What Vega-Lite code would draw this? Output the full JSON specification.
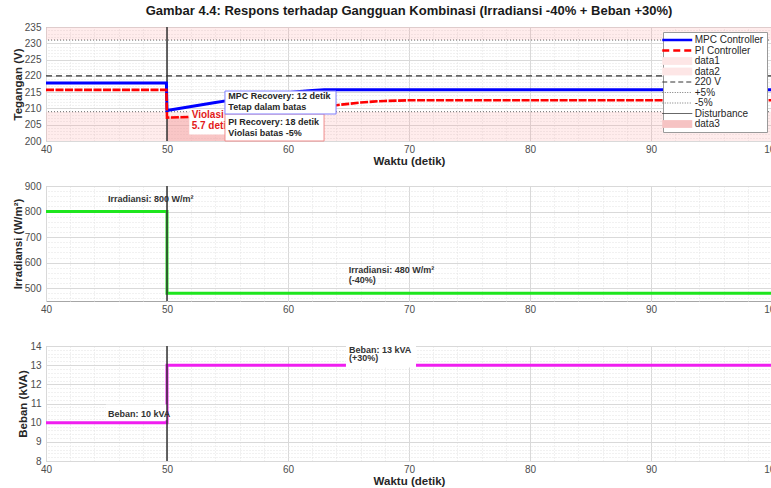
{
  "$schema": "https://vega.github.io/schema/vega-lite/v6.json",
  "padding": {"left": 11, "top": 4, "right": 0, "bottom": 0},
  "autosize": {"type": "pad"},
  "background": "white",
  "config": {
    "font": "Liberation Sans",
    "view": {"stroke": "#a6a6a6", "strokeWidth": 1},
    "axis": {"labelFont": "Liberation Sans", "titleFont": "Liberation Sans", "labelFontSize": 10, "labelColor": "#4d4d4d", "titleFontSize": 11.5, "titleFontWeight": "bold", "titleColor": "#262626", "ticks": false, "domain": false, "gridColor": "#d9d9d9", "gridWidth": 1, "labelPadding": 3, "labelFlush": false},
    "axisX": {"titlePadding": 1},
    "axisY": {"labelPadding": 5, "titlePadding": 1}
  },
  "datasets": {
    "mpc": [
      {"t": 40, "v": 217.8}, {"t": 45, "v": 217.8}, {"t": 49.95, "v": 217.8}, {"t": 50, "v": 209.4},
      {"t": 51, "v": 210.0}, {"t": 52, "v": 210.6}, {"t": 53, "v": 211.2}, {"t": 54, "v": 211.8},
      {"t": 55, "v": 212.4}, {"t": 56, "v": 212.9}, {"t": 57, "v": 213.4}, {"t": 58, "v": 213.9},
      {"t": 59, "v": 214.4}, {"t": 60, "v": 214.8}, {"t": 61, "v": 215.2}, {"t": 62, "v": 215.5},
      {"t": 63, "v": 215.7}, {"t": 70, "v": 215.7}, {"t": 80, "v": 215.7}, {"t": 90, "v": 215.7}, {"t": 100, "v": 215.7}
    ],
    "pi": [
      {"t": 40, "v": 215.7}, {"t": 45, "v": 215.7}, {"t": 49.95, "v": 215.7}, {"t": 50, "v": 207.2},
      {"t": 51, "v": 207.3}, {"t": 52, "v": 207.4}, {"t": 53, "v": 207.6}, {"t": 54, "v": 207.9},
      {"t": 55, "v": 208.4}, {"t": 55.7, "v": 209.0}, {"t": 57, "v": 209.5}, {"t": 59, "v": 210.0},
      {"t": 61, "v": 210.4}, {"t": 63, "v": 210.7}, {"t": 64, "v": 211.0}, {"t": 65, "v": 211.4},
      {"t": 66, "v": 211.8}, {"t": 67, "v": 212.1}, {"t": 68, "v": 212.3}, {"t": 70, "v": 212.5},
      {"t": 80, "v": 212.5}, {"t": 90, "v": 212.5}, {"t": 100, "v": 212.5}
    ],
    "bands": [
      {"x1": 40, "x2": 100, "y1": 231, "y2": 235},
      {"x1": 40, "x2": 100, "y1": 200, "y2": 209}
    ],
    "refs": [
      {"v": 220, "k": "nom"}, {"v": 231, "k": "lim"}, {"v": 209, "k": "lim"}
    ],
    "dist": [{"t": 50}],
    "boxes": [
      {"b": "viol", "x1": 51.84, "x2": 54.79, "y1": 202.0, "y2": 209.3},
      {"b": "pi", "x1": 54.79, "x2": 62.98, "y1": 200.0, "y2": 208.29},
      {"b": "mpc", "x1": 54.79, "x2": 63.97, "y1": 208.29, "y2": 215.35}
    ],
    "notes": [
      {"g": "viol", "x": 52.04, "y": 208.0, "txt": "Violasi"},
      {"g": "viol", "x": 52.04, "y": 204.5, "txt": "5.7 detik"},
      {"g": "pi", "x": 55.07, "y": 205.7, "txt": "PI Recovery: 18 detik"},
      {"g": "pi", "x": 55.07, "y": 202.55, "txt": "Violasi batas -5%"},
      {"g": "mpc", "x": 55.07, "y": 213.9, "txt": "MPC Recovery: 12 detik"},
      {"g": "mpc", "x": 55.07, "y": 210.5, "txt": "Tetap dalam batas"}
    ],
    "irr": [
      {"i": 0, "t": 40, "v": 800}, {"i": 1, "t": 50, "v": 800}, {"i": 2, "t": 50, "v": 480}, {"i": 3, "t": 100, "v": 480}
    ],
    "irrNotes": [
      {"x": 45.12, "y": 850.7, "txt": "Irradiansi: 800 W/m²"},
      {"x": 65.02, "y": 571.6, "txt": "Irradiansi: 480 W/m²"},
      {"x": 65.02, "y": 531, "txt": "(-40%)"}
    ],
    "beban": [
      {"i": 0, "t": 40, "v": 10}, {"i": 1, "t": 50, "v": 10}, {"i": 2, "t": 50, "v": 13}, {"i": 3, "t": 100, "v": 13}
    ],
    "bebanBoxes": [
      {"x1": 64.79, "x2": 70.58, "y1": 12.88, "y2": 14.0},
      {"x1": 44.95, "x2": 50.0, "y1": 10.12, "y2": 10.95}
    ],
    "bebanNotes": [
      {"x": 45.12, "y": 10.44, "txt": "Beban: 10 kVA"},
      {"x": 65.04, "y": 13.8, "txt": "Beban: 13 kVA"},
      {"x": 65.04, "y": 13.35, "txt": "(+30%)"}
    ]
  },
  "bounds": "flush",
  "spacing": 45,
  "resolve": {"scale": {"color": "independent"}, "legend": {"color": "independent"}},
  "vconcat": [
    {
      "width": 726,
      "height": 114,
      "title": {"text": "Gambar 4.4: Respons terhadap Gangguan Kombinasi (Irradiansi -40% + Beban +30%)", "fontSize": 13, "fontWeight": "bold", "color": "#1a1a1a", "anchor": "middle", "frame": "group", "offset": 4, "font": "Liberation Sans"},
      "resolve": {"axis": {"x": "independent", "y": "independent"}},
      "layer": [
        {
          "data": {"name": "bands"},
          "mark": {"type": "rect", "color": "#ff8c8c", "opacity": 0.17},
          "encoding": {
            "x": {"field": "x1", "type": "quantitative", "scale": {"domain": [40, 100], "nice": false, "zero": false},
                  "axis": {"orient": "top", "values": [40,42,44,46,48,50,52,54,56,58,60,62,64,66,68,70,72,74,76,78,80,82,84,86,88,90,92,94,96,98,100], "labels": false, "ticks": false, "domain": false, "title": null, "grid": true, "gridDash": [1, 2], "gridColor": "#e3e3e3"}},
            "x2": {"field": "x2"},
            "y": {"field": "y1", "type": "quantitative", "scale": {"domain": [200, 235], "nice": false, "zero": false},
                  "axis": {"orient": "right", "values": [200,201,202,203,204,205,206,207,208,209,210,211,212,213,214,215,216,217,218,219,220,221,222,223,224,225,226,227,228,229,230,231,232,233,234,235], "labels": false, "ticks": false, "domain": false, "title": null, "grid": true, "gridDash": [1, 2], "gridColor": "#e3e3e3"}},
            "y2": {"field": "y2"}
          }
        },
        {
          "layer": [
            {
              "data": {"name": "pi"},
              "transform": [{"filter": "datum.t >= 50 && datum.t <= 55.7"}],
              "mark": {"type": "area", "color": "#f29a9a", "opacity": 0.45},
              "encoding": {
                "x": {"field": "t", "type": "quantitative", "scale": {"domain": [40, 100], "nice": false, "zero": false},
                      "axis": {"values": [40,50,60,70,80,90,100], "title": "Waktu (detik)", "grid": true}},
                "y": {"field": "v", "type": "quantitative", "scale": {"domain": [200, 235], "nice": false, "zero": false},
                      "axis": {"values": [200,205,210,215,220,225,230,235], "title": "Tegangan (V)", "grid": true}},
                "y2": {"datum": 200}
              }
            },
            {
              "data": {"name": "refs"},
              "transform": [{"filter": "datum.k === 'nom'"}],
              "mark": {"type": "rule", "color": "#333333", "strokeWidth": 1.2, "strokeDash": [6, 4]},
              "encoding": {"y": {"field": "v", "type": "quantitative", "axis": {"values": [200,205,210,215,220,225,230,235], "title": "Tegangan (V)", "grid": true}}}
            },
            {
              "data": {"name": "refs"},
              "transform": [{"filter": "datum.k === 'lim'"}],
              "mark": {"type": "rule", "color": "#6b6b6b", "strokeWidth": 1, "strokeDash": [1, 2]},
              "encoding": {"y": {"field": "v", "type": "quantitative", "axis": {"values": [200,205,210,215,220,225,230,235], "title": "Tegangan (V)", "grid": true}}}
            },
            {
              "data": {"name": "dist"},
              "mark": {"type": "rule", "color": "#333333", "strokeWidth": 1.5},
              "encoding": {"x": {"field": "t", "type": "quantitative", "axis": {"values": [40,50,60,70,80,90,100], "title": "Waktu (detik)", "grid": true}}}
            },
            {
              "data": {"name": "mpc"},
              "mark": {"type": "line", "strokeWidth": 3},
              "encoding": {
                "x": {"field": "t", "type": "quantitative", "axis": {"values": [40,50,60,70,80,90,100], "title": "Waktu (detik)", "grid": true}},
                "y": {"field": "v", "type": "quantitative", "axis": {"values": [200,205,210,215,220,225,230,235], "title": "Tegangan (V)", "grid": true}},
                "color": {
                  "datum": "MPC Controller", "type": "nominal",
                  "scale": {
                    "domain": ["MPC Controller", "PI Controller", "data1", "data2", "220 V", "+5%", "-5%", "Disturbance", "data3"],
                    "range": ["#0000ff", "#ff0000", "#fde6e6", "#fde6e6", "#333333", "#777777", "#777777", "#444444", "#f6c3c3"]
                  },
                  "legend": {
                    "title": null, "orient": "top-right", "offset": 5, "padding": 3,
                    "strokeColor": "#9a9a9a", "fillColor": "white",
                    "labelFontSize": 10, "labelColor": "#262626", "labelFont": "Liberation Sans",
                    "symbolType": "stroke", "symbolSize": 36, "symbolOffset": 6.25, "labelOffset": 12.5, "rowPadding": 0.5,
                    "encode": {
                      "symbols": {
                        "update": {
                          "shape": {"signal": "indexof(['data1','data2','data3'], datum.value) >= 0 ? 'M-5,-1.3H5V1.3H-5Z' : 'M-5,0H5'"},
                          "fill": {"signal": "datum.value === 'data3' ? '#f6c3c3' : ((datum.value === 'data1' || datum.value === 'data2') ? '#fde6e6' : 'transparent')"},
                          "fillOpacity": {"value": 1},
                          "strokeOpacity": {"signal": "indexof(['data1','data2','data3'], datum.value) >= 0 ? 0 : 1"},
                          "strokeDash": {"signal": "datum.value === 'PI Controller' ? [7, 4] : (datum.value === '220 V' ? [5, 3] : ((datum.value === '+5%' || datum.value === '-5%') ? [1, 1.5] : [1, 0]))"},
                          "strokeWidth": {"signal": "(datum.value === 'MPC Controller' || datum.value === 'PI Controller') ? 2.5 : 1"}
                        }
                      }
                    }
                  }
                }
              }
            },
            {
              "data": {"name": "pi"},
              "mark": {"type": "line", "strokeWidth": 2.6, "strokeDash": [8, 1.5]},
              "encoding": {
                "x": {"field": "t", "type": "quantitative", "axis": {"values": [40,50,60,70,80,90,100], "title": "Waktu (detik)", "grid": true}},
                "y": {"field": "v", "type": "quantitative", "axis": {"values": [200,205,210,215,220,225,230,235], "title": "Tegangan (V)", "grid": true}},
                "color": {"datum": "PI Controller", "type": "nominal"}
              }
            },
            {
              "data": {"name": "boxes"},
              "transform": [{"filter": "datum.b === 'viol'"}],
              "mark": {"type": "rect", "fill": "white", "strokeWidth": 0},
              "encoding": {
                "x": {"field": "x1", "type": "quantitative", "axis": {"values": [40,50,60,70,80,90,100], "title": "Waktu (detik)", "grid": true}}, "x2": {"field": "x2"},
                "y": {"field": "y1", "type": "quantitative", "axis": {"values": [200,205,210,215,220,225,230,235], "title": "Tegangan (V)", "grid": true}}, "y2": {"field": "y2"}
              }
            },
            {
              "data": {"name": "notes"},
              "transform": [{"filter": "datum.g === 'viol'"}],
              "mark": {"type": "text", "align": "left", "baseline": "middle", "fontSize": 10, "fontWeight": "bold", "color": "#e31a1a", "font": "Liberation Sans"},
              "encoding": {
                "x": {"field": "x", "type": "quantitative", "axis": {"values": [40,50,60,70,80,90,100], "title": "Waktu (detik)", "grid": true}},
                "y": {"field": "y", "type": "quantitative", "axis": {"values": [200,205,210,215,220,225,230,235], "title": "Tegangan (V)", "grid": true}},
                "text": {"field": "txt"}
              }
            },
            {
              "data": {"name": "boxes"},
              "transform": [{"filter": "datum.b === 'pi'"}],
              "mark": {"type": "rect", "fill": "white", "stroke": "#f08c8c", "strokeWidth": 1},
              "encoding": {
                "x": {"field": "x1", "type": "quantitative", "axis": {"values": [40,50,60,70,80,90,100], "title": "Waktu (detik)", "grid": true}}, "x2": {"field": "x2"},
                "y": {"field": "y1", "type": "quantitative", "axis": {"values": [200,205,210,215,220,225,230,235], "title": "Tegangan (V)", "grid": true}}, "y2": {"field": "y2"}
              }
            },
            {
              "data": {"name": "boxes"},
              "transform": [{"filter": "datum.b === 'mpc'"}],
              "mark": {"type": "rect", "fill": "white", "stroke": "#8080ff", "strokeWidth": 1},
              "encoding": {
                "x": {"field": "x1", "type": "quantitative", "axis": {"values": [40,50,60,70,80,90,100], "title": "Waktu (detik)", "grid": true}}, "x2": {"field": "x2"},
                "y": {"field": "y1", "type": "quantitative", "axis": {"values": [200,205,210,215,220,225,230,235], "title": "Tegangan (V)", "grid": true}}, "y2": {"field": "y2"}
              }
            },
            {
              "data": {"name": "notes"},
              "transform": [{"filter": "datum.g !== 'viol'"}],
              "mark": {"type": "text", "align": "left", "baseline": "middle", "fontSize": 9, "fontWeight": "bold", "color": "#262626", "font": "Liberation Sans"},
              "encoding": {
                "x": {"field": "x", "type": "quantitative", "axis": {"values": [40,50,60,70,80,90,100], "title": "Waktu (detik)", "grid": true}},
                "y": {"field": "y", "type": "quantitative", "axis": {"values": [200,205,210,215,220,225,230,235], "title": "Tegangan (V)", "grid": true}},
                "text": {"field": "txt"}
              }
            }
          ]
        }
      ]
    },
    {
      "width": 726,
      "height": 115,
      "resolve": {"axis": {"x": "independent", "y": "independent"}},
      "layer": [
        {
          "data": {"name": "irr"},
          "mark": {"type": "line", "color": "#1ee61e", "strokeWidth": 3},
          "encoding": {
            "x": {"field": "t", "type": "quantitative", "scale": {"domain": [40, 100], "nice": false, "zero": false},
                  "axis": {"orient": "top", "values": [40,42,44,46,48,50,52,54,56,58,60,62,64,66,68,70,72,74,76,78,80,82,84,86,88,90,92,94,96,98,100], "labels": false, "ticks": false, "domain": false, "title": null, "grid": true, "gridDash": [1, 2], "gridColor": "#e3e3e3"}},
            "y": {"field": "v", "type": "quantitative", "scale": {"domain": [450, 900], "nice": false, "zero": false},
                  "axis": {"orient": "right", "values": [460,480,500,520,540,560,580,600,620,640,660,680,700,720,740,760,780,800,820,840,860,880,900], "labels": false, "ticks": false, "domain": false, "title": null, "grid": true, "gridDash": [1, 2], "gridColor": "#e3e3e3"}},
            "order": {"field": "i", "type": "quantitative"}
          }
        },
        {
          "layer": [
            {
              "data": {"name": "irrNotes"},
              "mark": {"type": "text", "align": "left", "baseline": "middle", "fontSize": 9, "fontWeight": "bold", "color": "#333333", "font": "Liberation Sans"},
              "encoding": {
                "x": {"field": "x", "type": "quantitative", "scale": {"domain": [40, 100], "nice": false, "zero": false},
                      "axis": {"values": [40,50,60,70,80,90,100], "title": null, "grid": true}},
                "y": {"field": "y", "type": "quantitative", "scale": {"domain": [450, 900], "nice": false, "zero": false},
                      "axis": {"values": [500,600,700,800,900], "title": "Irradiansi (W/m²)", "grid": true}},
                "text": {"field": "txt"}
              }
            },
            {
              "data": {"name": "dist"},
              "mark": {"type": "rule", "color": "#333333", "strokeWidth": 1.5},
              "encoding": {"x": {"field": "t", "type": "quantitative", "axis": {"values": [40,50,60,70,80,90,100], "title": null, "grid": true}}}
            }
          ]
        }
      ]
    },
    {
      "width": 726,
      "height": 115,
      "resolve": {"axis": {"x": "independent", "y": "independent"}},
      "layer": [
        {
          "data": {"name": "beban"},
          "mark": {"type": "line", "color": "#f01ef0", "strokeWidth": 3},
          "encoding": {
            "x": {"field": "t", "type": "quantitative", "scale": {"domain": [40, 100], "nice": false, "zero": false},
                  "axis": {"orient": "top", "values": [40,42,44,46,48,50,52,54,56,58,60,62,64,66,68,70,72,74,76,78,80,82,84,86,88,90,92,94,96,98,100], "labels": false, "ticks": false, "domain": false, "title": null, "grid": true, "gridDash": [1, 2], "gridColor": "#e3e3e3"}},
            "y": {"field": "v", "type": "quantitative", "scale": {"domain": [8, 14], "nice": false, "zero": false},
                  "axis": {"orient": "right", "values": [8,8.2,8.4,8.6,8.8,9,9.2,9.4,9.6,9.8,10,10.2,10.4,10.6,10.8,11,11.2,11.4,11.6,11.8,12,12.2,12.4,12.6,12.8,13,13.2,13.4,13.6,13.8,14], "labels": false, "ticks": false, "domain": false, "title": null, "grid": true, "gridDash": [1, 2], "gridColor": "#e3e3e3"}},
            "order": {"field": "i", "type": "quantitative"}
          }
        },
        {
          "layer": [
            {
              "data": {"name": "bebanBoxes"},
              "mark": {"type": "rect", "fill": "white", "strokeWidth": 0},
              "encoding": {
                "x": {"field": "x1", "type": "quantitative", "scale": {"domain": [40, 100], "nice": false, "zero": false},
                      "axis": {"values": [40,50,60,70,80,90,100], "title": "Waktu (detik)", "grid": true}},
                "x2": {"field": "x2"},
                "y": {"field": "y1", "type": "quantitative", "scale": {"domain": [8, 14], "nice": false, "zero": false},
                      "axis": {"values": [8,9,10,11,12,13,14], "title": "Beban (kVA)", "grid": true}},
                "y2": {"field": "y2"}
              }
            },
            {
              "data": {"name": "bebanNotes"},
              "mark": {"type": "text", "align": "left", "baseline": "middle", "fontSize": 9, "fontWeight": "bold", "color": "#333333", "font": "Liberation Sans"},
              "encoding": {
                "x": {"field": "x", "type": "quantitative", "axis": {"values": [40,50,60,70,80,90,100], "title": "Waktu (detik)", "grid": true}},
                "y": {"field": "y", "type": "quantitative", "axis": {"values": [8,9,10,11,12,13,14], "title": "Beban (kVA)", "grid": true}},
                "text": {"field": "txt"}
              }
            },
            {
              "data": {"name": "dist"},
              "mark": {"type": "rule", "color": "#333333", "strokeWidth": 1.5},
              "encoding": {"x": {"field": "t", "type": "quantitative", "axis": {"values": [40,50,60,70,80,90,100], "title": "Waktu (detik)", "grid": true}}}
            }
          ]
        }
      ]
    }
  ]
}
